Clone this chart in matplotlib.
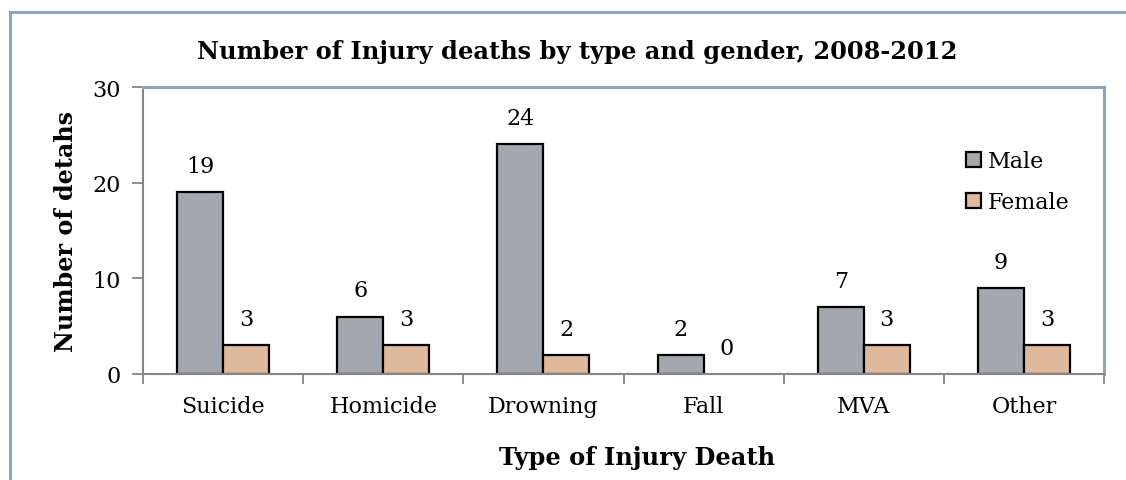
import matplotlib
matplotlib.use("Agg")
import matplotlib.pyplot as plt
import numpy as np
from matplotlib.patches import Rectangle

categories = ["Suicide", "Homicide", "Drowning", "Fall", "MVA", "Other"]
male = [19, 6, 24, 2, 7, 9]
female = [3, 3, 2, 0, 3, 3]

plt.rcParams["font.family"] = ["DejaVu Serif"]

fig = plt.figure(figsize=(11.26, 4.81), dpi=100)
ax = fig.add_axes([0.127, 0.2204, 0.8535, 0.5966])

# outer chart frame
fig.patches.append(Rectangle((0.0089, -0.2), 1.2, 1.173, transform=fig.transFigure,
                             fill=False, edgecolor="#8ea4bd", linewidth=2.2))

x = np.arange(len(categories))
w = 0.2875
b1 = ax.bar(x - w / 2, male, w, color="#a3a7ae", edgecolor="black", linewidth=1.6, label="Male")
b2 = ax.bar(x + w / 2, female, w, color="#dfb99c", edgecolor="black", linewidth=1.6, label="Female")

for bars, vals in ((b1, male), (b2, female)):
    for r, v in zip(bars, vals):
        if v == 0:
            r.set_linewidth(0)
        ax.annotate(str(v), (r.get_x() + r.get_width() / 2, v), xytext=(0, 11),
                    textcoords="offset points", ha="center", va="bottom", fontsize=16)

ax.set_xlim(-0.5, len(categories) - 0.5)
ax.set_ylim(0, 30)
ax.set_yticks([0, 10, 20, 30])
ax.set_xticks(np.arange(len(categories) + 1) - 0.5, minor=False)
ax.set_xticklabels([])
ax.set_xticks(x, minor=True)
ax.set_xticklabels(categories, minor=True, fontsize=16)
ax.tick_params(axis="x", which="minor", length=0, pad=15)
ax.tick_params(axis="x", which="major", direction="out", length=7, color="#868686", width=1.3)
ax.tick_params(axis="y", direction="out", length=8, color="#868686", width=1.3, labelsize=16, pad=8)

for s in ("left", "bottom"):
    ax.spines[s].set_color("#868686")
    ax.spines[s].set_linewidth(1.5)
for s in ("top", "right"):
    ax.spines[s].set_color("#8ea4bd")
    ax.spines[s].set_linewidth(2.2)

ax.set_title("Number of Injury deaths by type and gender, 2008-2012",
             fontsize=17.4, fontweight="bold", pad=21, x=0.4516)
ax.set_ylabel("Number of detahs", fontsize=17.2, fontweight="bold", labelpad=10)
ax.set_xlabel("Type of Injury Death", fontsize=17.4, fontweight="bold", labelpad=20, x=0.514)

ax.legend(loc="upper left", bbox_to_anchor=(0.847, 0.81), frameon=False, fontsize=16,
          handlelength=0.7, handleheight=0.7, handletextpad=0.3, labelspacing=0.85,
          borderaxespad=0)

fig.savefig("out.png", dpi=100)
